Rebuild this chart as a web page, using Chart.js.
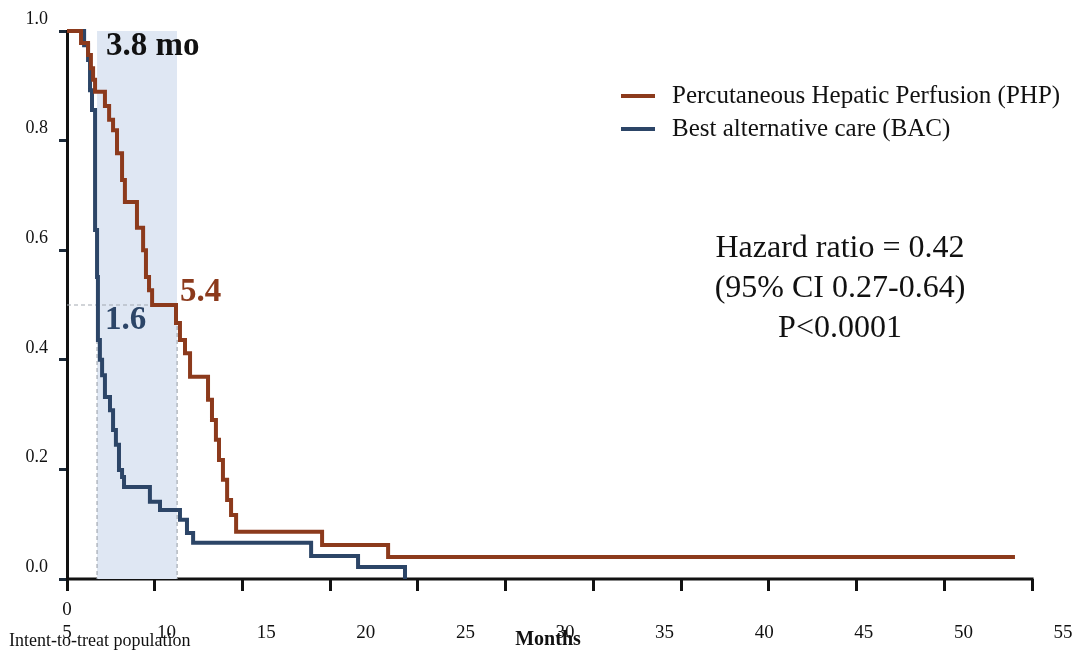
<!DOCTYPE html>
<html lang="en">
<head>
<meta charset="UTF-8">
<title>Hepatic progression-free survival</title>
<script src="https://cdn.jsdelivr.net/npm/chart.js"></script>
<style>
  body { margin: 0; background: #fff; }
</style>
</head>
<body>
<canvas id="km" width="1077" height="650"></canvas>
<script>
// Kaplan-Meier steps: month of each drop and survival right after it
const phpMonths   = [0, 0.64, 0.96, 1.09, 1.19, 1.28, 1.73, 1.92, 2.10, 2.28, 2.51, 2.64, 3.19, 3.47, 3.60, 3.74, 3.88,
                     4.97, 5.15, 5.38, 5.61, 6.43, 6.61, 6.79, 6.93, 7.11, 7.30, 7.48, 7.71, 11.63, 14.64, 43.22];
const phpSurvival = [1, 0.978, 0.956, 0.932, 0.911, 0.889, 0.863, 0.838, 0.819, 0.777, 0.728, 0.688, 0.641, 0.600, 0.551, 0.527, 0.50,
                     0.467, 0.436, 0.412, 0.369, 0.327, 0.290, 0.254, 0.217, 0.181, 0.144, 0.117, 0.086, 0.062, 0.040, 0.040];

const bacMonths   = [0, 0.78, 0.96, 1.05, 1.14, 1.28, 1.37, 1.41, 1.50, 1.60, 1.73, 1.96, 2.10, 2.23, 2.37, 2.51, 2.60,
                     3.78, 4.24, 5.15, 5.47, 5.75, 11.13, 13.27, 15.41];
const bacSurvival = [1, 0.974, 0.947, 0.892, 0.856, 0.637, 0.551, 0.436, 0.400, 0.372, 0.332, 0.308, 0.272, 0.245, 0.199, 0.186, 0.168,
                     0.141, 0.126, 0.108, 0.084, 0.066, 0.042, 0.022, 0];

const medianMonths = [1.37, 5.02];   // where each curve crosses 0.5
const monthTicks   = [0, 4, 8, 12, 16, 20, 24, 28, 32, 36, 40, 44];
const monthLabels  = [5, 10, 15, 20, 25, 30, 35, 40, 45, 50, 55];
const survivalTicks = [0, 0.2, 0.4, 0.6, 0.8, 1.0];

const phpColor = '#8c3a1c';
const bacColor = '#2c4567';
const serif = "'Liberation Serif', 'Times New Roman', serif";

const notes = [
  { text: '3.8 mo', x: 1.78, y: 0.972, color: '#111', font: 'bold 33px ' + serif },
  { text: '5.4',    x: 5.15, y: 0.522, color: phpColor, font: 'bold 33px ' + serif },
  { text: '1.6',    x: 1.73, y: 0.471, color: bacColor, font: 'bold 33px ' + serif }
];
const statsLines = ['Hazard ratio = 0.42', '(95% CI 0.27-0.64)', 'P<0.0001'];

const toPoints = (xs, ys) => xs.map((m, i) => ({ x: m, y: ys[i] }));

const overlay = {
  id: 'overlay',
  beforeDatasetsDraw(chart) {
    const { ctx, chartArea, scales: { x } } = chart;
    // axis line only runs to the last tick mark
    ctx.save();
    ctx.strokeStyle = '#111';
    ctx.lineWidth = 3;
    ctx.beginPath();
    ctx.moveTo(x.getPixelForValue(0), chartArea.bottom);
    ctx.lineTo(x.getPixelForValue(monthTicks[monthTicks.length - 1]) + 1.5, chartArea.bottom);
    ctx.stroke();
    ctx.restore();
  },
  afterDraw(chart) {
    const { ctx, scales: { x, y } } = chart;
    ctx.save();
    ctx.textBaseline = 'middle';
    ctx.textAlign = 'left';
    notes.forEach(n => {
      ctx.font = n.font;
      ctx.fillStyle = n.color;
      ctx.fillText(n.text, x.getPixelForValue(n.x), y.getPixelForValue(n.y));
    });

    // legend
    const items = chart.data.datasets.filter(d => d.inLegend);
    ctx.font = '25px ' + serif;
    items.forEach((d, i) => {
      const yy = 96 + i * 33;
      ctx.strokeStyle = d.borderColor;
      ctx.lineWidth = 4;
      ctx.beginPath();
      ctx.moveTo(621, yy);
      ctx.lineTo(655, yy);
      ctx.stroke();
      ctx.fillStyle = '#111';
      ctx.fillText(d.label, 672, yy);
    });

    // hazard ratio block
    ctx.textAlign = 'center';
    ctx.font = '32px ' + serif;
    statsLines.forEach((t, i) => ctx.fillText(t, 840, 249 + i * 40));

    // bottom captions
    ctx.textAlign = 'left';
    ctx.font = '18px ' + serif;
    ctx.fillText('Intent-to-treat population', 9, 641);
    ctx.textAlign = 'center';
    ctx.font = 'bold 20px ' + serif;
    ctx.fillText('Months', 548, 640);
    ctx.restore();
  }
};

new Chart(document.getElementById('km'), {
  type: 'line',
  data: {
    datasets: [
      {
        label: 'Percutaneous Hepatic Perfusion (PHP)',
        inLegend: true,
        data: toPoints(phpMonths, phpSurvival),
        stepped: true,
        borderColor: phpColor,
        borderWidth: 4,
        pointRadius: 0,
        clip: false,
        order: 1
      },
      {
        label: 'Best alternative care (BAC)',
        inLegend: true,
        data: toPoints(bacMonths, bacSurvival),
        stepped: true,
        borderColor: bacColor,
        borderWidth: 4,
        pointRadius: 0,
        clip: false,
        order: 2
      },
      {
        label: 'median gap',
        data: toPoints(medianMonths, [1, 1]),
        fill: 'origin',
        backgroundColor: '#dfe7f3',
        borderWidth: 0,
        pointRadius: 0,
        order: 6
      },
      {
        label: 'median 0.5',
        data: toPoints([0, medianMonths[1]], [0.5, 0.5]),
        borderColor: '#a4aab2',
        borderWidth: 1.2,
        borderDash: [4, 3],
        pointRadius: 0,
        order: 4
      },
      {
        label: 'BAC median drop',
        data: toPoints([medianMonths[0], medianMonths[0]], [0.5, 0]),
        borderColor: '#a4aab2',
        borderWidth: 1.2,
        borderDash: [4, 3],
        pointRadius: 0,
        order: 4
      },
      {
        label: 'PHP median drop',
        data: toPoints([medianMonths[1], medianMonths[1]], [0.5, 0]),
        borderColor: '#a4aab2',
        borderWidth: 1.2,
        borderDash: [4, 3],
        pointRadius: 0,
        order: 4
      }
    ]
  },
  options: {
    responsive: false,
    animation: false,
    layout: { padding: { top: 31, right: 14, left: 0, bottom: 0 } },
    plugins: {
      legend: { display: false },
      tooltip: { enabled: false }
    },
    elements: { line: { borderJoinStyle: 'miter', borderCapStyle: 'butt' } },
    scales: {
      x: {
        type: 'linear',
        position: 'bottom',
        weight: 0,
        min: 0,
        max: 45.41,
        afterBuildTicks: s => { s.ticks = monthTicks.map(v => ({ value: v })); },
        afterFit: s => { s.height = 40; },
        border: { display: false },
        grid: { drawOnChartArea: false, drawTicks: true, tickLength: 12, tickWidth: 3, tickColor: '#111' },
        ticks: {
          padding: 8,
          maxRotation: 0,
          autoSkip: false,
          color: '#111',
          font: { family: serif, size: 19 },
          callback: v => (v === 0 ? '0' : '')
        }
      },
      x2: {
        type: 'linear',
        position: 'bottom',
        weight: 1,
        min: monthLabels[0],
        max: monthLabels[monthLabels.length - 1],
        afterBuildTicks: s => { s.ticks = monthLabels.map(v => ({ value: v })); },
        afterFit: s => { s.height = 31; },
        border: { display: false },
        grid: { display: false, drawTicks: false },
        ticks: {
          padding: 3,
          maxRotation: 0,
          autoSkip: false,
          color: '#111',
          font: { family: serif, size: 19 }
        }
      },
      y: {
        min: 0,
        max: 1,
        afterBuildTicks: s => { s.ticks = survivalTicks.map(v => ({ value: v })); },
        afterFit: s => { s.width = 67; },
        border: { display: true, color: '#111', width: 3 },
        grid: { drawOnChartArea: false, drawTicks: true, tickLength: 8, tickWidth: 3, tickColor: '#1d2b3a' },
        ticks: {
          padding: 11,
          labelOffset: -12,
          color: '#111',
          font: { family: serif, size: 18 },
          callback: v => v.toFixed(1)
        }
      }
    }
  },
  plugins: [overlay]
});
</script>
</body>
</html>
